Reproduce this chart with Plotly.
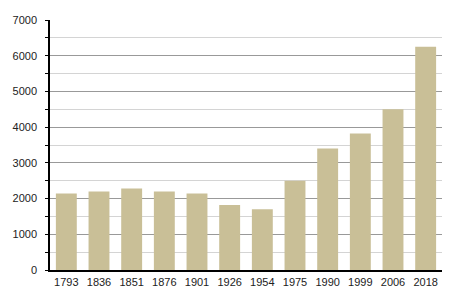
import plotly.graph_objects as go

years = ["1793", "1836", "1851", "1876", "1901", "1926", "1954", "1975", "1990", "1999", "2006", "2018"]
population = [2140, 2200, 2280, 2200, 2140, 1820, 1700, 2500, 3400, 3820, 4500, 6250]

fig = go.Figure(go.Bar(x=years, y=population, marker=dict(color="#C9BF97", line=dict(width=0)), width=0.64))

fig.update_layout(
    width=450, height=300,
    margin=dict(l=50, r=8, t=20, b=30),
    paper_bgcolor="white", plot_bgcolor="white",
    font=dict(family="Liberation Sans, Arial, sans-serif", size=11, color="#222"),
    showlegend=False,
    bargap=0.36,
)
fig.update_xaxes(
    type="category", showline=True, linecolor="black", linewidth=1.5,
    ticks="", showgrid=False, tickfont=dict(size=11), ticklabelstandoff=1,
)
fig.update_yaxes(
    range=[0, 7000], dtick=1000, showline=True, linecolor="black", linewidth=1.5,
    ticks="outside", ticklen=3, tickcolor="black", ticklabelstandoff=6,
    showgrid=True, gridcolor="#999999", gridwidth=1,
    minor=dict(dtick=500, showgrid=True, gridcolor="#d4d4d4", gridwidth=1, ticks="outside", ticklen=3, tickcolor="black"),
    zeroline=False, tickfont=dict(size=11),
)
fig.write_html("out.html")
